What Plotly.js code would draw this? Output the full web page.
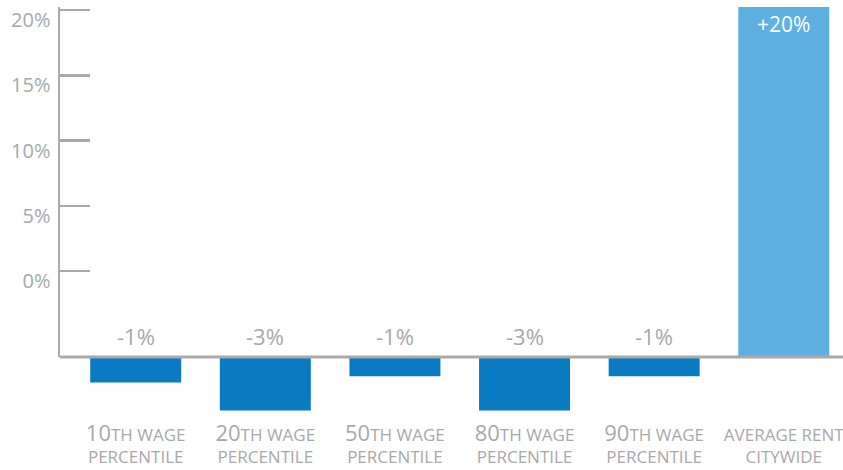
<!DOCTYPE html>
<html>
<head>
<meta charset="utf-8">
<script src="https://cdn.plot.ly/plotly-3.0.1.min.js"></script>
<style>html,body{margin:0;padding:0;background:#fff;}#chart{width:843px;height:470px;}</style>
</head>
<body>
<div id="chart"></div>
<script>
// Data
var categories = ["10th wage percentile", "20th wage percentile", "50th wage percentile", "80th wage percentile", "90th wage percentile", "Average rent citywide"];
var tickLabels = [
  '<span style="font-size:22px">10</span>TH WAGE<br>PERCENTILE',
  '<span style="font-size:22px">20</span>TH WAGE<br>PERCENTILE',
  '<span style="font-size:22px">50</span>TH WAGE<br>PERCENTILE',
  '<span style="font-size:22px">80</span>TH WAGE<br>PERCENTILE',
  '<span style="font-size:22px">90</span>TH WAGE<br>PERCENTILE',
  'AVERAGE RENT<br>CITYWIDE'
];
var values = [-1.45, -3.05, -1.1, -3.05, -1.1, 20];
var valueLabels = ["-1%", "-3%", "-1%", "-3%", "-1%", "+20%"];
var yTickVals = [0, 5, 10, 15, 20];
var yTickText = ["0%", "5%", "10%", "15%", "20%"];

var gray = "#a7a9ac";
var barColors = values.map(function (v) { return v > 0 ? "#5db0e0" : "#0a7bc2"; });
var barText = valueLabels.map(function (t, i) { return values[i] > 0 ? t : ""; });

var traces = [
  {
    type: "bar",
    x: categories,
    y: values,
    xaxis: "x",
    yaxis: "y2",
    width: 0.702,
    marker: { color: barColors, line: { width: 0 } },
    text: barText,
    textposition: "inside",
    insidetextanchor: "end",
    textangle: 0,
    textfont: { family: "Open Sans", size: 21, color: "#ffffff" },
    constraintext: "none",
    hoverinfo: "skip"
  },
  {
    // carrier for the percentage tick axis
    type: "scatter",
    mode: "markers",
    x: [categories[0]],
    y: [yTickVals[0]],
    xaxis: "x",
    yaxis: "y",
    marker: { opacity: 0, size: 1 },
    hoverinfo: "skip"
  }
];

var annotations = [];
categories.forEach(function (c, i) {
  if (values[i] < 0) {
    annotations.push({
      x: c, y: 0, xref: "x", yref: "y2",
      text: valueLabels[i],
      showarrow: false,
      yanchor: "bottom",
      yshift: 4,
      font: { family: "Open Sans", size: 22, color: gray }
    });
  }
});

var layout = {
  width: 843,
  height: 470,
  margin: { l: 60, r: 0, t: 7, b: 50, pad: 0 },
  paper_bgcolor: "#ffffff",
  plot_bgcolor: "rgba(0,0,0,0)",
  showlegend: false,
  font: { family: "Open Sans", color: gray },
  xaxis: {
    type: "category",
    categoryorder: "array",
    categoryarray: categories,
    range: [-0.584, 5.457],
    tickvals: categories,
    ticktext: tickLabels,
    tickfont: { family: "Open Sans", size: 17, color: gray },
    ticklabelstandoff: 3,
    showgrid: false,
    zeroline: false,
    showline: false,
    ticks: "",
    anchor: "y2",
    fixedrange: true
  },
  yaxis2: {
    domain: [0, 1],
    range: [-3.6, 20],
    anchor: "x",
    visible: false,
    fixedrange: true
  },
  yaxis: {
    domain: [0.1525, 1],
    range: [-6.59, 20.23],
    anchor: "x",
    tickvals: yTickVals,
    ticktext: yTickText,
    tickfont: { family: "Open Sans", size: 20, color: gray },
    ticks: "inside",
    ticklen: 30,
    tickwidth: 2.5,
    tickcolor: gray,
    showline: true,
    linecolor: gray,
    linewidth: 2.5,
    showgrid: false,
    zeroline: false,
    ticklabelshift: 10,
    ticklabelstandoff: 3,
    fixedrange: true
  },
  annotations: annotations,
  shapes: [
    {
      type: "line",
      xref: "paper",
      x0: 0,
      x1: 1,
      yref: "y2",
      y0: 0,
      y1: 0,
      line: { color: gray, width: 3 },
      layer: "above"
    }
  ]
};

Plotly.newPlot("chart", traces, layout, { staticPlot: true, displayModeBar: false });
</script>
</body>
</html>
